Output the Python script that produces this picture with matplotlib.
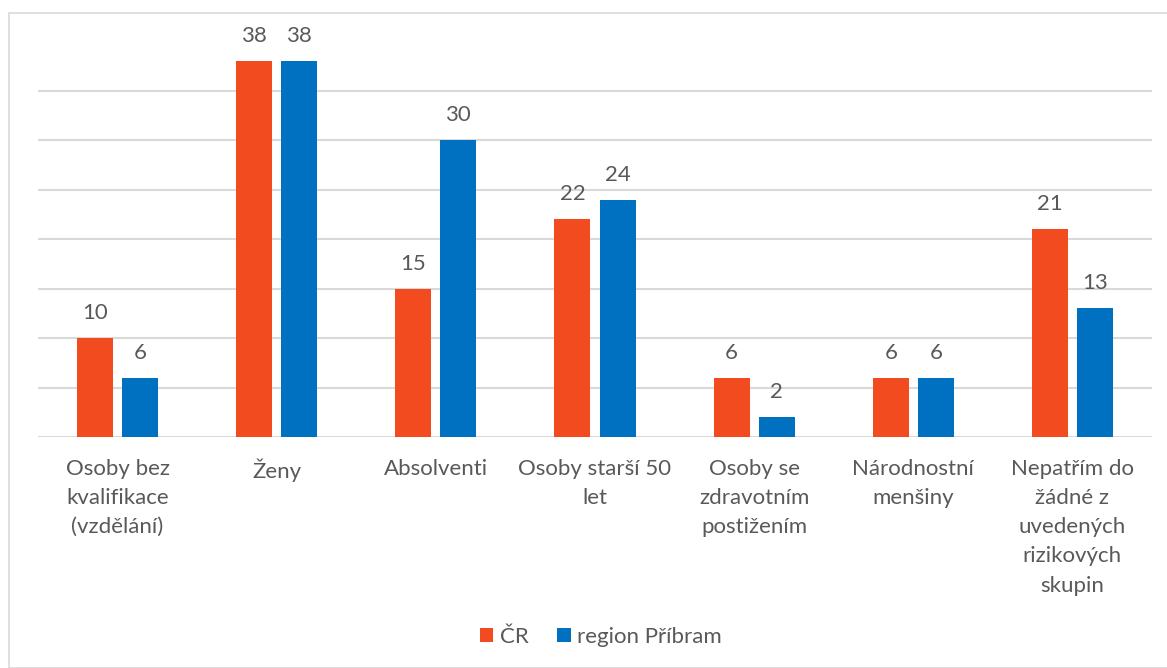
import matplotlib
matplotlib.use("Agg")
import matplotlib.pyplot as plt
from matplotlib.patches import Rectangle
import numpy as np

categories = [
    "Osoby bez\nkvalifikace\n(vzdělání)",
    "Ženy",
    "Absolventi",
    "Osoby starší 50\nlet",
    "Osoby se\nzdravotním\npostižením",
    "Národnostní\nmenšiny",
    "Nepatřím do\nžádné z\nuvedených\nrizikových\nskupin",
]
series_names = ["ČR", "region Příbram"]
cr_values = [10, 38, 15, 22, 6, 6, 21]
pribram_values = [6, 38, 30, 24, 2, 6, 13]
colors = ["#F24B1F", "#0070C0"]

plt.rcParams["font.family"] = ["Lato", "DejaVu Sans"]
text_color = "#595959"
grid_color = "#D9D9D9"

W, H = 1167, 668
fig = plt.figure(figsize=(W / 100, H / 100), dpi=100)

# outer chart frame
fig.patches.append(Rectangle((9 / W, 0), 1.0, 1 - 13 / H, transform=fig.transFigure,
                             fill=False, edgecolor=grid_color, linewidth=1.2))

ax = fig.add_axes([38 / W, 1 - 437 / H, (1152 - 38) / W, (437 - 41.5) / H])
x = np.arange(len(categories))
bw = 36 / 159
off = 22.5 / 159

for vals, name, col, d in [(cr_values, series_names[0], colors[0], -off),
                           (pribram_values, series_names[1], colors[1], off)]:
    bars = ax.bar(x + d, vals, width=bw, color=col, label=name, zorder=3)
    for b, v in zip(bars, vals):
        ax.annotate(f"{v}", (b.get_x() + b.get_width() / 2, v),
                    xytext=(0, 15), textcoords="offset pixels",
                    ha="center", va="bottom", fontsize=16, color=text_color)

ax.set_ylim(0, 40)
ax.set_xlim(-0.5, len(categories) - 0.5)
ax.set_yticks(np.arange(0, 41, 5))
ax.yaxis.grid(True, color=grid_color, linewidth=1.5, zorder=0)
ax.set_axisbelow(True)
ax.tick_params(axis="y", left=False, labelleft=False)
ax.tick_params(axis="x", bottom=False, pad=12)
ax.set_xticks(x)
ax.set_xticklabels(categories, fontsize=16, color=text_color, va="top",
                   linespacing=1.58)
for s in ax.spines.values():
    s.set_visible(False)

leg = fig.legend(loc="center", bbox_to_anchor=(601 / W, 1 - 637 / H), ncol=2,
                 frameon=False, fontsize=16, handlelength=0.6, handleheight=0.6,
                 handletextpad=0.3, columnspacing=1.3)
for t in leg.get_texts():
    t.set_color(text_color)

fig.savefig("out.png", dpi=100, facecolor="white")
